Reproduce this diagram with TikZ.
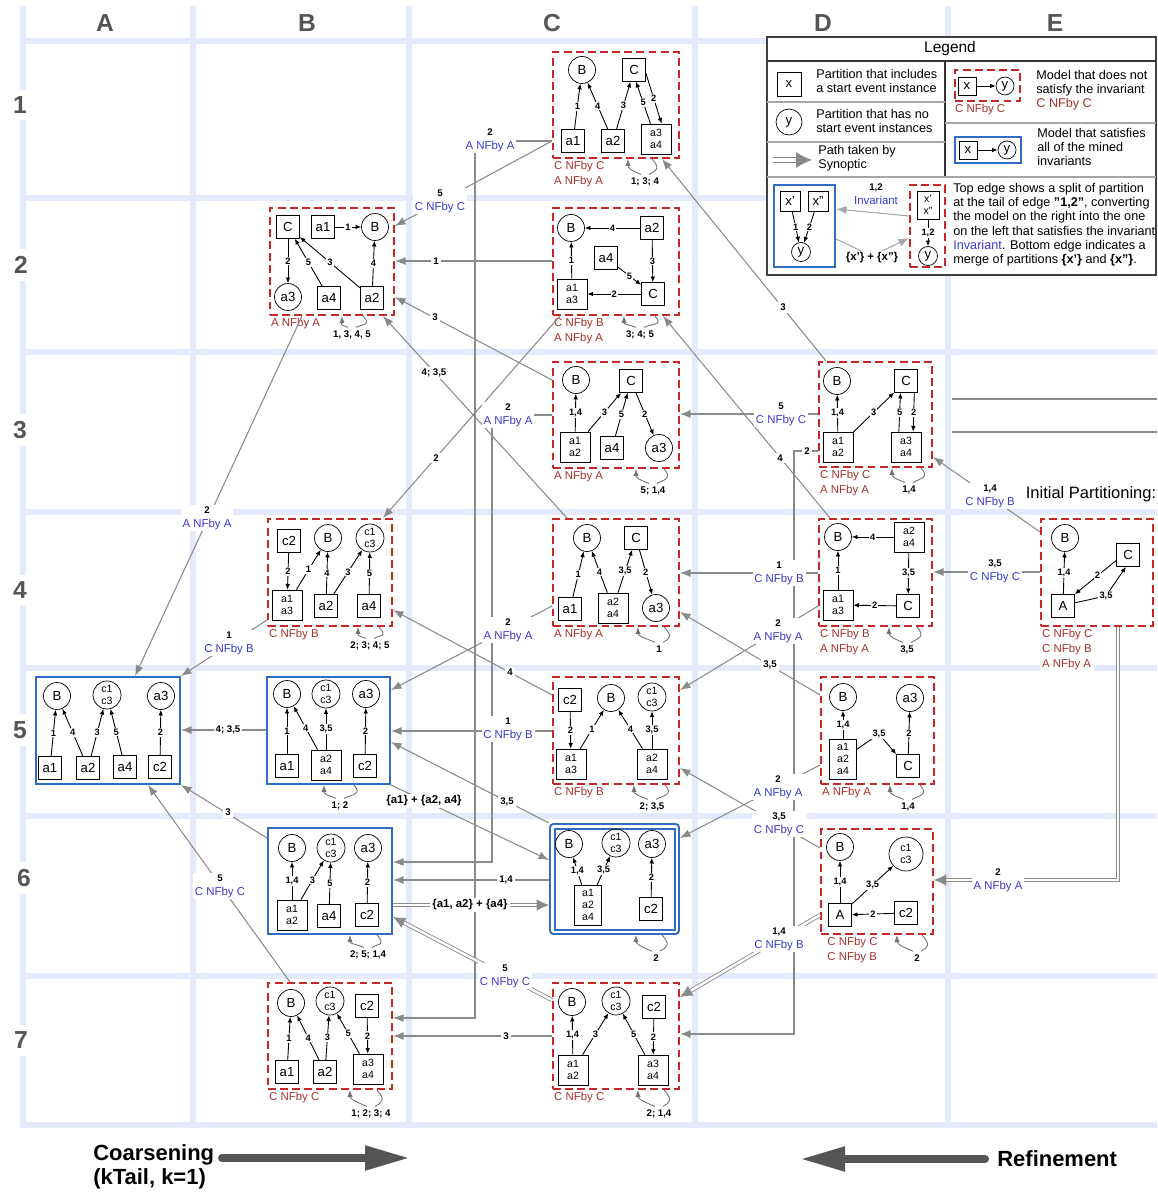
\documentclass[tikz,border=0pt]{standalone}
\usepackage{fontspec}
\setmainfont{Liberation Sans}
\usepackage{tikz}
\usetikzlibrary{arrows.meta,positioning,fit,calc}
\usepackage{xcolor}
\definecolor{gridbg}{HTML}{E4E9FC}
\definecolor{nfred}{HTML}{C62828}
\definecolor{nftext}{HTML}{A5322B}
\definecolor{okblue}{HTML}{2F6DC4}
\definecolor{invblue}{HTML}{3A3AC6}
\definecolor{metagray}{HTML}{8A8A8A}
\definecolor{hdrgray}{HTML}{555555}

\newcommand{\fsz}[2]{\fontsize{#1}{#2}\selectfont}
\newcommand{\mlab}[2]{{\color{black}\bfseries\fsz{5.5}{8}#1}\\#2}
% self loop under a model box: box, x out, x in, label x, label y, text
\newcommand{\mloop}[6]{%
  \node[nl, fill=none] (#1loop) at (#4,#5) {#6};
  \draw[metathin] (#1.south -| #2,0) .. controls +(9,10) and +(7,-4) .. ($(#1loop.north)+(4,-1)$);
  \draw[metathin, -{Latex[length=4pt,width=3pt]}] ($(#1loop.north)+(-4,-1)$) .. controls +(-10,-4) and +(0,9) .. (#1.south -| #3,0);
}

\begin{document}
\begin{tikzpicture}[x=0.02cm, y=-0.02cm,
  gridline/.style={draw=gridbg, line width=3.4pt},
  hdr/.style={text=hdrgray, font=\bfseries\fsz{14}{14}},
  sq/.style={draw, minimum size=0.46cm, inner sep=0pt, font=\fsz{7.5}{8}},
  sqd/.style={draw, minimum size=0.6cm, inner sep=0pt, align=center, font=\fsz{6}{6.6}},
  sqt/.style={draw, minimum width=0.54cm, minimum height=0.8cm, inner sep=0pt, align=center, font=\fsz{6}{6.6}},
  ci/.style={draw, circle, minimum size=0.54cm, inner sep=0pt, font=\fsz{7.5}{8}},
  cid/.style={draw, circle, minimum size=0.56cm, inner sep=0pt, align=center, font=\fsz{6}{6.6}},
  tr/.style={-{Latex[length=3.2pt,width=2.6pt]}, line width=0.5pt},
  il/.style={fill=white, inner sep=0.6pt, font=\bfseries\fsz{5.3}{6}},
  nf/.style={draw=nfred, line width=1.1pt, dash pattern=on 4.5pt off 2.4pt, inner sep=0pt},
  ok/.style={draw=okblue, line width=1.1pt, inner sep=0pt},
  nft/.style={text=nftext, font=\fsz{6.5}{8.5}, align=left, inner sep=1pt, anchor=north west},
  meta/.style={draw=metagray, line width=0.6pt, -{Latex[length=6pt,width=4.5pt]}},
  syn/.style={draw=metagray, line width=0.5pt, double=white, double distance=1.4pt, -{Latex[length=7pt,width=6.5pt]}},
  metathin/.style={draw=black!55, line width=0.5pt},
  ml/.style={fill=white, align=center, inner sep=1pt, font=\fsz{6.5}{8}, text=invblue},
  nl/.style={fill=white, inner sep=1.2pt, font=\bfseries\fsz{5.5}{6}},
  lgt/.style={font=\fsz{7.2}{8.1}, align=left, anchor=west, inner sep=0pt},
  bigarrow/.style={draw=hdrgray, line width=4.5pt, line cap=round, -{Triangle[length=0.9cm,width=0.46cm]}}
]
\useasboundingbox (0,0) rectangle (1157,1192);
\fill[white] (0,0) rectangle (1157,1192);

% grid of columns and rows
\foreach \gx in {23,193,409,695,948} \draw[gridline] (\gx,6) -- (\gx,1128);
\foreach \gy in {41,198,352,512,668,816,976,1125} \draw[gridline] (23,\gy) -- (1157,\gy);
\node[hdr] (cA) at (105,23) {A};
\node[hdr] (cB) at (307,23) {B};
\node[hdr] (cC) at (552,23) {C};
\node[hdr] (cD) at (823,23) {D};
\node[hdr] (cE) at (1055,23) {E};
\node[hdr, fill=white, inner sep=4pt] (r1) at (20,105) {1};
\node[hdr, fill=white, inner sep=4pt] (r2) at (21,265) {2};
\node[hdr, fill=white, inner sep=4pt] (r3) at (20,430) {3};
\node[hdr, fill=white, inner sep=4pt] (r4) at (20,590) {4};
\node[hdr, fill=white, inner sep=4pt] (r5) at (20,730) {5};
\node[hdr, fill=white, inner sep=4pt] (r6) at (24,878) {6};
\node[hdr, fill=white, inner sep=4pt] (r7) at (21,1040) {7};

% legend
\node[draw=black!75, line width=0.8pt, fill=white, inner sep=0pt, fit={(767,37) (1156,275)}] (legend) {};
\draw[black!80, line width=0.7pt] (767,61) -- (1156,61);
\draw[black!80, line width=0.7pt] (945,61) -- (945,177);
\draw[black!35, line width=0.9pt] (767,102) -- (945,102);
\draw[black!35, line width=0.9pt] (767,142) -- (945,142);
\draw[black!35, line width=0.9pt] (945,123) -- (1156,123);
\draw[black!35, line width=0.9pt] (767,177) -- (1156,177);
\node[font=\fsz{8.8}{9}] (legtitle) at (950,49) {Legend};
\node[sq, minimum size=0.48cm] (lgx) at (789,84) {x};
\node[lgt] (lgxt) at (816,81) {Partition that includes\\a start event instance};
\node[ci, minimum size=0.52cm] (lgy) at (789,122) {y};
\node[lgt] (lgyt) at (816,121) {Partition that has no\\start event instances};
\coordinate (lgs1) at (773,160);
\coordinate (lgs2) at (812,160);
\draw[syn, double distance=2pt, -{Latex[length=9pt,width=9pt]}] (lgs1) -- (lgs2);
\node[lgt] (lgst) at (818,158) {Path taken by\\Synoptic};
\node[nf, fit={(955,70) (1020,101)}] (lgnf) {};
\node[sq, minimum size=0.36cm] (lgnx) at (967,86) {x};
\node[ci, minimum size=0.36cm] (lgny) at (1005,86) {y};
\draw[tr] (lgnx) -- (lgny);
\node[nft, anchor=west] (lgnfl) at (953,110) {C NFby C};
\node[lgt] (lgnft) at (1036,90) {Model that does not\\satisfy the invariant\\\textcolor{nftext}{C NFby C}};
\node[ok, fit={(955,137) (1021,163)}] (lgok) {};
\node[sq, minimum size=0.36cm] (lgox) at (968,150) {x};
\node[ci, minimum size=0.36cm] (lgoy) at (1007,150) {y};
\draw[tr] (lgox) -- (lgoy);
\node[lgt] (lgokt) at (1037,147) {Model that satisfies\\all of the mined\\invariants};
\node[ok, fit={(774,185) (835,267)}] (lgB) {};
\node[sq, minimum size=0.4cm] (lgx1) at (790,201) {x'};
\node[sq, minimum size=0.4cm] (lgx2) at (818,201) {x"};
\node[ci, minimum size=0.38cm] (lgy2) at (801,252) {y};
\draw[tr] (lgx1) -- node[il] {1} (lgy2);
\draw[tr] (lgx2) -- node[il] {2} (lgy2);
\node[nf, fit={(910,185) (945,267)}] (lgR) {};
\node[sqd, minimum width=0.44cm, minimum height=0.56cm] (lgx12) at (928,205) {x'\\x"};
\node[ci, minimum size=0.38cm] (lgy3) at (928,256) {y};
\draw[tr] (lgx12) -- node[il] {1,2} (lgy3);
\draw[meta, draw=black!35] (lgR.west |- 0,216) -- (lgB.east |- 0,209) node[ml, at={(876,194)}] (lgsplit) {\mlab{1,2}{Invariant}};
\draw[meta, draw=black!35] (lgB.east |- 0,239) -- (872,256) -- (lgR.west |- 0,238) node[nl, font=\bfseries\fsz{6.5}{7}, at={(872,258)}] (lgmerge) {\{x'\} + \{x''\}};
\node[lgt, anchor=north west] (lgtext) at (953,183) {Top edge shows a split of partition\\at the tail of edge \textbf{"1,2"}, converting\\the model on the right into the one\\on the left that satisfies the invariant\\\textcolor{invblue}{Invariant}. Bottom edge indicates a\\merge of partitions \textbf{\{x'\}} and \textbf{\{x''\}}.};

% row 1
\node[nf, fit={(553,52) (679,158)}] (mC1) {};
\node[ci] (C1B) at (582,70) {B};
\node[sq] (C1C) at (634,70) {C};
\node[sq] (C1a1) at (573,141) {a1};
\node[sq] (C1a2) at (613,141) {a2};
\node[sqd] (C1a34) at (656,139) {a3\\a4};
\draw[tr] (C1a1) -- node[il] {1} (C1B);
\draw[tr] (C1a2) -- node[il] {4} (C1B);
\draw[tr] (C1a2) -- node[il] {3} (C1C);
\draw[tr] (C1a34.110) -- node[il] {5} (C1C.-80);
\draw[tr] (C1C.-15) -- node[il] {2} (C1a34.70);
\node[nft] (C1lbl) at (mC1.south west) {C NFby C\\A NFby A};
\mloop{mC1}{652}{628}{645}{182}{1; 3; 4}

% row 2
\node[nf, fit={(270,208) (394,315)}] (mB2) {};
\node[sq] (B2C) at (288,227) {C};
\node[sq] (B2a1) at (323,227) {a1};
\node[ci] (B2B) at (375,227) {B};
\node[ci] (B2a3) at (288,297) {a3};
\node[sq] (B2a4) at (329,298) {a4};
\node[sq] (B2a2) at (372,298) {a2};
\draw[tr] (B2a1) -- node[il] {1} (B2B);
\draw[tr] (B2C) -- node[il] {2} (B2a3);
\draw[tr] (B2a4) -- node[il] {5} (B2C);
\draw[tr] (B2a2) -- node[il] {3} (B2C);
\draw[tr] (B2a2) -- node[il] {4} (B2B);
\node[nft] (B2lbl) at (mB2.south west) {A NFby A};
\mloop{mB2}{363}{342}{352}{335}{1, 3, 4, 5}

\node[nf, fit={(553,208) (679,315)}] (mC2) {};
\node[ci] (C2B) at (571,228) {B};
\node[sq] (C2a2) at (652,228) {a2};
\node[sq] (C2a4) at (606,258) {a4};
\node[sqd] (C2a13) at (572,294) {a1\\a3};
\node[sq] (C2C) at (653,294) {C};
\draw[tr] (C2a2) -- node[il] {4} (C2B);
\draw[tr] (C2a2) -- node[il] {3} (C2C);
\draw[tr] (C2a4) -- node[il] {5} (C2C);
\draw[tr] (C2C) -- node[il] {2} (C2a13);
\draw[tr] (C2a13) -- node[il] {1} (C2B);
\node[nft] (C2lbl) at (mC2.south west) {C NFby B\\A NFby A};
\mloop{mC2}{655}{624}{640}{335}{3; 4; 5}

% row 3
\node[nf, fit={(553,362) (679,468)}] (mC3) {};
\node[ci] (C3B) at (576,380) {B};
\node[sq] (C3C) at (631,381) {C};
\node[sqd] (C3a12) at (575,447) {a1\\a2};
\node[sq] (C3a4) at (612,448) {a4};
\node[ci] (C3a3) at (659,448) {a3};
\draw[tr] (C3a12) -- node[il] {1,4} (C3B);
\draw[tr] (C3a12) -- node[il] {3} (C3C);
\draw[tr] (C3a4) -- node[il] {5} (C3C);
\draw[tr] (C3C) -- node[il] {2} (C3a3);
\node[nft] (C3lbl) at (mC3.south west) {A NFby A};
\mloop{mC3}{664}{636}{653}{491}{5; 1,4}

\node[nf, fit={(819,362) (932,467)}] (mD3) {};
\node[ci] (D3B) at (837,381) {B};
\node[sq] (D3C) at (906,381) {C};
\node[sqd] (D3a12) at (838,447) {a1\\a2};
\node[sqd] (D3a34) at (906,447) {a3\\a4};
\draw[tr] (D3a12) -- node[il] {1,4} (D3B);
\draw[tr] (D3a12) -- node[il] {3} (D3C);
\draw[tr] (D3a34.115) -- node[il] {5} (D3C.-115);
\draw[tr] (D3C.-55) -- node[il] {2} (D3a34.65);
\node[nft] (D3lbl) at (mD3.south west) {C NFby C\\A NFby A};
\mloop{mD3}{921}{892}{909}{490}{1,4}

% row 4
\node[nf, fit={(268,519) (392,626)}] (mB4) {};
\node[sq] (B4c2) at (289,541) {c2};
\node[ci] (B4B) at (328,538) {B};
\node[cid] (B4c13) at (370,538) {c1\\c3};
\node[sqd] (B4a13) at (287,605) {a1\\a3};
\node[sq] (B4a2) at (326,606) {a2};
\node[sq] (B4a4) at (369,606) {a4};
\draw[tr] (B4c2) -- node[il] {2} (B4a13);
\draw[tr] (B4a13) -- node[il] {1} (B4B);
\draw[tr] (B4a2) -- node[il] {4} (B4B);
\draw[tr] (B4a2) -- node[il] {3} (B4c13);
\draw[tr] (B4a4) -- node[il] {5} (B4c13);
\node[nft] (B4lbl) at (mB4.south west) {C NFby B};
\mloop{mB4}{379}{358}{370}{646}{2; 3; 4; 5}

\node[nf, fit={(553,519) (679,626)}] (mC4) {};
\node[ci] (C4B) at (587,538) {B};
\node[sq] (C4C) at (636,538) {C};
\node[sq] (C4a1) at (570,609) {a1};
\node[sqd] (C4a24) at (613,608) {a2\\a4};
\node[ci] (C4a3) at (656,608) {a3};
\draw[tr] (C4a1) -- node[il] {1} (C4B);
\draw[tr] (C4a24) -- node[il] {4} (C4B);
\draw[tr] (C4a24) -- node[il] {3,5} (C4C);
\draw[tr] (C4C) -- node[il] {2} (C4a3);
\node[nft] (C4lbl) at (mC4.south west) {A NFby A};
\mloop{mC4}{664}{638}{659}{649}{1}

\node[nf, fit={(819,519) (932,626)}] (mD4) {};
\node[ci] (D4B) at (838,537) {B};
\node[sqd] (D4a24) at (909,537) {a2\\a4};
\node[sqd] (D4a13) at (838,605) {a1\\a3};
\node[sq] (D4C) at (908,606) {C};
\draw[tr] (D4a24) -- node[il] {4} (D4B);
\draw[tr] (D4a24) -- node[il] {3,5} (D4C);
\draw[tr] (D4C) -- node[il] {2} (D4a13);
\draw[tr] (D4a13) -- node[il] {1} (D4B);
\node[nft] (D4lbl) at (mD4.south west) {C NFby B\\A NFby A};
\mloop{mD4}{917}{889}{907}{650}{3,5}

\node[font=\fsz{9.4}{10}] (initp) at (1091,494) {Initial Partitioning:};
\node[nf, fit={(1041,519) (1153,626)}] (mE4) {};
\node[ci] (E4B) at (1065,538) {B};
\node[sq] (E4C) at (1128,555) {C};
\node[sq] (E4A) at (1063,606) {A};
\draw[tr] (E4A) -- node[il] {1,4} (E4B);
\draw[tr] (E4C.205) -- node[il, pos=0.45] {2} (E4A.north east);
\draw[tr] (E4A.15) -- (1106,596) node[il] {3,5} -- (E4C.-100);
\node[nft, fill=white] (E4lbl) at (mE4.south west) {C NFby C\\C NFby B\\A NFby A};

% row 5
\node[ok, fit={(36,677) (180,784)}] (mA5) {};
\node[ci] (A5B) at (57,696) {B};
\node[cid] (A5c13) at (107,695) {c1\\c3};
\node[ci] (A5a3) at (161,696) {a3};
\node[sq] (A5a1) at (50,768) {a1};
\node[sq] (A5a2) at (88,768) {a2};
\node[sq] (A5a4) at (125,767) {a4};
\node[sq] (A5c2) at (160,767) {c2};
\draw[tr] (A5a1) -- node[il] {1} (A5B);
\draw[tr] (A5a2) -- node[il] {4} (A5B);
\draw[tr] (A5a2) -- node[il] {3} (A5c13);
\draw[tr] (A5a4) -- node[il] {5} (A5c13);
\draw[tr] (A5c2) -- node[il] {2} (A5a3);

\node[ok, fit={(267,677) (390,784)}] (mB5) {};
\node[ci] (B5B) at (287,694) {B};
\node[cid] (B5c13) at (326,694) {c1\\c3};
\node[ci] (B5a3) at (366,694) {a3};
\node[sq] (B5a1) at (287,766) {a1};
\node[sqd] (B5a24) at (326,765) {a2\\a4};
\node[sq] (B5c2) at (365,766) {c2};
\draw[tr] (B5a1) -- node[il] {1} (B5B);
\draw[tr] (B5a24) -- node[il] {4} (B5B);
\draw[tr] (B5a24) -- node[il] {3,5} (B5c13);
\draw[tr] (B5c2) -- node[il] {2} (B5a3);
\mloop{mB5}{354}{324}{340}{806}{1; 2}

\node[nf, fit={(553,677) (679,784)}] (mC5) {};
\node[sq] (C5c2) at (570,700) {c2};
\node[ci] (C5B) at (611,698) {B};
\node[cid] (C5c13) at (652,697) {c1\\c3};
\node[sqd] (C5a13) at (571,764) {a1\\a3};
\node[sqd] (C5a24) at (652,764) {a2\\a4};
\draw[tr] (C5c2) -- node[il] {2} (C5a13);
\draw[tr] (C5a13) -- node[il] {1} (C5B);
\draw[tr] (C5a24) -- node[il] {4} (C5B);
\draw[tr] (C5a24) -- node[il] {3,5} (C5c13);
\node[nft] (C5lbl) at (mC5.south west) {C NFby B};
\mloop{mC5}{665}{634}{652}{807}{2; 3,5}

\node[nf, fit={(821,677) (934,784)}] (mD5) {};
\node[ci] (D5B) at (843,697) {B};
\node[ci] (D5a3) at (910,698) {a3};
\node[sqt] (D5a124) at (843,759) {a1\\a2\\a4};
\node[sq] (D5C) at (908,766) {C};
\draw[tr] (D5a124) -- node[il] {1,4} (D5B);
\draw[tr] (D5a124.35) -- (879,734) node[il] {3,5} -- (D5C.north west);
\draw[tr] (D5C) -- node[il] {2} (D5a3);
\node[nft] (D5lbl) at (mD5.south west) {A NFby A};
\mloop{mD5}{920}{890}{908}{807}{1,4}

% row 6
\node[ok, fit={(268,828) (392,934)}] (mB6) {};
\node[ci] (B6B) at (292,848) {B};
\node[cid] (B6c13) at (331,848) {c1\\c3};
\node[ci] (B6a3) at (368,848) {a3};
\node[sqd] (B6a12) at (292,915) {a1\\a2};
\node[sq] (B6a4) at (329,916) {a4};
\node[sq] (B6c2) at (367,915) {c2};
\draw[tr] (B6a12) -- node[il] {1,4} (B6B);
\draw[tr] (B6a12) -- node[il] {3} (B6c13);
\draw[tr] (B6a4) -- node[il] {5} (B6c13);
\draw[tr] (B6c2) -- node[il] {2} (B6a3);
\mloop{mB6}{377}{350}{368}{955}{2; 5; 1,4}

\node[ok, rounded corners=2pt, fit={(550,824) (679,934)}] (mC6) {};
\node[ok, fit={(555,829) (675,930)}] (mC6in) {};
\node[ci] (C6B) at (569,844) {B};
\node[cid] (C6c13) at (616,843) {c1\\c3};
\node[ci] (C6a3) at (652,844) {a3};
\node[sqt] (C6a124) at (588,905) {a1\\a2\\a4};
\node[sq] (C6c2) at (651,909) {c2};
\draw[tr] (C6a124) -- node[il] {1,4} (C6B);
\draw[tr] (C6a124) -- node[il] {3,5} (C6c13);
\draw[tr] (C6c2) -- node[il] {2} (C6a3);
\mloop{mC6}{662}{636}{656}{958}{2}

\node[nf, fit={(821,829) (933,934)}] (mD6) {};
\node[ci] (D6B) at (840,847) {B};
\node[cid, minimum size=0.68cm] (D6c13) at (906,854) {c1\\c3};
\node[sq] (D6A) at (840,915) {A};
\node[sq] (D6c2) at (906,913) {c2};
\draw[tr] (D6A) -- node[il] {1,4} (D6B);
\draw[tr] (D6A) -- node[il] {3,5} (D6c13);
\draw[tr] (D6c2) -- node[il] {2} (D6A);
\node[nft, xshift=3pt] (D6lbl) at (mD6.south west) {C NFby C\\C NFby B};
\mloop{mD6}{922}{897}{917}{958}{2}

% row 7
\node[nf, fit={(268,983) (392,1089)}] (mB7) {};
\node[ci] (B7B) at (291,1003) {B};
\node[cid] (B7c13) at (330,1001) {c1\\c3};
\node[sq] (B7c2) at (367,1006) {c2};
\node[sq] (B7a1) at (287,1072) {a1};
\node[sq] (B7a2) at (325,1072) {a2};
\node[sqd] (B7a34) at (368,1069) {a3\\a4};
\draw[tr] (B7a1) -- node[il] {1} (B7B);
\draw[tr] (B7a2) -- node[il] {4} (B7B);
\draw[tr] (B7a2) -- node[il] {3} (B7c13);
\draw[tr] (B7a34) -- node[il] {5} (B7c13);
\draw[tr] (B7c2) -- node[il] {2} (B7a34);
\node[nft] (B7lbl) at (mB7.south west) {C NFby C};
\mloop{mB7}{377}{350}{371}{1114}{1; 2; 3; 4}

\node[nf, fit={(553,983) (679,1089)}] (mC7) {};
\node[ci] (C7B) at (572,1002) {B};
\node[cid] (C7c13) at (616,1001) {c1\\c3};
\node[sq] (C7c2) at (654,1007) {c2};
\node[sqd] (C7a12) at (573,1070) {a1\\a2};
\node[sqd] (C7a34) at (653,1070) {a3\\a4};
\draw[tr] (C7a12) -- node[il] {1,4} (C7B);
\draw[tr] (C7a12) -- node[il] {3} (C7c13);
\draw[tr] (C7a34) -- node[il] {5} (C7c13);
\draw[tr] (C7c2) -- node[il] {2} (C7a34);
\node[nft] (C7lbl) at (mC7.south west) {C NFby C};
\mloop{mC7}{664}{638}{659}{1114}{2; 1,4}

% transitions between models
\draw[meta] (mC1.west |- 0,141) -- (mB2.east |- 0,226) node[ml, at={(440,201)}] (e1) {\mlab{5}{C NFby C}};
\draw[meta] (mC1.west |- 0,141) -| (475,1018) -- (mB7.east |- 0,1018) node[ml, at={(490,140)}] (e2) {\mlab{2}{A NFby A}};
\draw[meta] (mC2.west |- 0,261) -- (mB2.east |- 0,261) node[nl, at={(436,261)}] (e3) {1};
\draw[meta] (mC3.west |- 0,380) -- (mB2.east |- 0,297) node[nl, at={(435,317)}] (e4) {3};
\draw[meta] (mC4.north -| 567,0) -- (mB2.south -| 383,0) node[nl, at={(434,373)}] (e5) {4; 3,5};
\draw[meta] (mC2.south -| 560,0) -- (mB4.north -| 383,0) node[nl, at={(436,458)}] (e6) {2};
\draw[meta] (mC3.west |- 0,415) -| (492,862) -- (mB6.east |- 0,862) node[ml, at={(508,415)}] (e7) {\mlab{2}{A NFby A}};
\draw[meta] (mC4.west |- 0,606) -- (mB5.east |- 0,690) node[ml, at={(508,630)}] (e8) {\mlab{2}{A NFby A}};
\draw[meta] (mC5.west |- 0,695) -- (mB4.east |- 0,610) node[nl, at={(510,672)}] (e9) {4};
\draw[meta] (mC5.west |- 0,731) -- (mB5.east |- 0,731) node[ml, at={(508,729)}] (e10) {\mlab{1}{C NFby B}};
\draw[meta] (mC6.north west) -- (mB5.east |- 0,742) node[nl, at={(507,802)}] (e11) {3,5};
\draw[meta] (mB5.south east) -- (mC6.west |- 0,860) node[nl, font=\bfseries\fsz{6.5}{7}, at={(424,801)}] (e12) {\{a1\} + \{a2, a4\}};
\draw[meta] (mC6.west |- 0,880) -- (mB6.east |- 0,880) node[nl, at={(506,880)}] (e13) {1,4};
\draw[syn] (mB6.east |- 0,905) -- (mC6.west |- 0,905) node[nl, font=\bfseries\fsz{6.5}{7}, at={(470,905)}] (e14) {\{a1, a2\} + \{a4\}};
\draw[syn] (mC7.west |- 0,1000) -- (mB6.east |- 0,917) node[ml, at={(505,976)}] (e15) {\mlab{5}{C NFby C}};
\draw[meta] (mC7.west |- 0,1036) -- (mB7.east |- 0,1036) node[nl, at={(506,1036)}] (e16) {3};
\draw[meta] (mD3.north -| 826,0) -- (mC1.south -| 662,0) node[nl, at={(783,307)}] (e17) {3};
\draw[meta] (mD4.north -| 830,0) -- (mC2.south -| 663,0) node[nl, at={(780,458)}] (e18) {4};
\draw[meta] (mD3.west |- 0,414) -- (mC3.east |- 0,414) node[ml, at={(781,414)}] (e19) {\mlab{5}{C NFby C}};
\draw[meta] (mD3.west |- 0,451) -| (794,1034) -- (mC7.east |- 0,1034) node[nl, at={(807,451)}] (e20) {2};
\draw[meta] (mD4.west |- 0,573) -- (mC4.east |- 0,573) node[ml, at={(779,573)}] (e21) {\mlab{1}{C NFby B}};
\draw[meta] (mD4.west |- 0,606) -- (mC5.east |- 0,690) node[ml, at={(778,631)}] (e22) {\mlab{2}{A NFby A}};
\draw[meta] (mD5.west |- 0,695) -- (mC4.east |- 0,612) node[nl, at={(770,665)}] (e23) {3,5};
\draw[meta] (mD5.west |- 0,765) -- (mC6.east |- 0,838) node[ml, at={(778,787)}] (e24) {\mlab{2}{A NFby A}};
\draw[meta] (mD6.west |- 0,848) -- (mC5.east |- 0,768) node[ml, at={(779,824)}] (e25) {\mlab{3,5}{C NFby C}};
\draw[syn] (mD6.west |- 0,915) -- (mC7.east |- 0,997) node[ml, at={(779,939)}] (e26) {\mlab{1,4}{C NFby B}};
\draw[meta] (mE4.west |- 0,532) -- (mD3.east |- 0,457) node[ml, at={(990,496)}] (e27) {\mlab{1,4}{C NFby B}};
\draw[meta] (mE4.west |- 0,572) -- (mD4.east |- 0,572) node[ml, at={(995,571)}] (e28) {\mlab{3,5}{C NFby C}};
\draw[syn] (mE4.south -| 1118,0) |- (mD6.east |- 0,880) node[ml, at={(998,880)}] (e29) {\mlab{2}{A NFby A}};
\draw[meta] (mB2.south -| 302,0) -- (mA5.north -| 135,0) node[ml, at={(207,518)}] (e30) {\mlab{2}{A NFby A}};
\draw[meta] (mB4.west |- 0,620) -- (mA5.north east) node[ml, at={(229,643)}] (e31) {\mlab{1}{C NFby B}};
\draw[meta] (mB5.west |- 0,730) -- (mA5.east |- 0,730) node[nl, at={(228,730)}] (e32) {4; 3,5};
\draw[meta] (mB6.west |- 0,838) -- (mA5.south east) node[nl, at={(228,812)}] (e33) {3};
\draw[meta] (mB7.north -| 290,0) -- (mA5.south -| 148,0) node[ml, at={(220,886)}] (e34) {\mlab{5}{C NFby C}};
\draw[metagray, line width=0.7pt] (952,399) -- (1157,399);
\draw[metagray, line width=0.7pt] (952,432) -- (1157,432);

% direction arrows at the bottom
\node[font=\bfseries\fsz{12.5}{13.5}, align=left, anchor=west, inner sep=0pt] (coarse) at (93,1167) {Coarsening\\(kTail, k=1)};
\coordinate (cs) at (222,1158);
\coordinate (ce) at (410,1158);
\draw[bigarrow] (cs) -- (ce);
\node[font=\bfseries\fsz{12.5}{13.5}, anchor=west, inner sep=0pt] (refine) at (997,1159) {Refinement};
\coordinate (rs) at (985,1159);
\coordinate (re) at (800,1159);
\draw[bigarrow] (rs) -- (re);
\end{tikzpicture}
\end{document}
